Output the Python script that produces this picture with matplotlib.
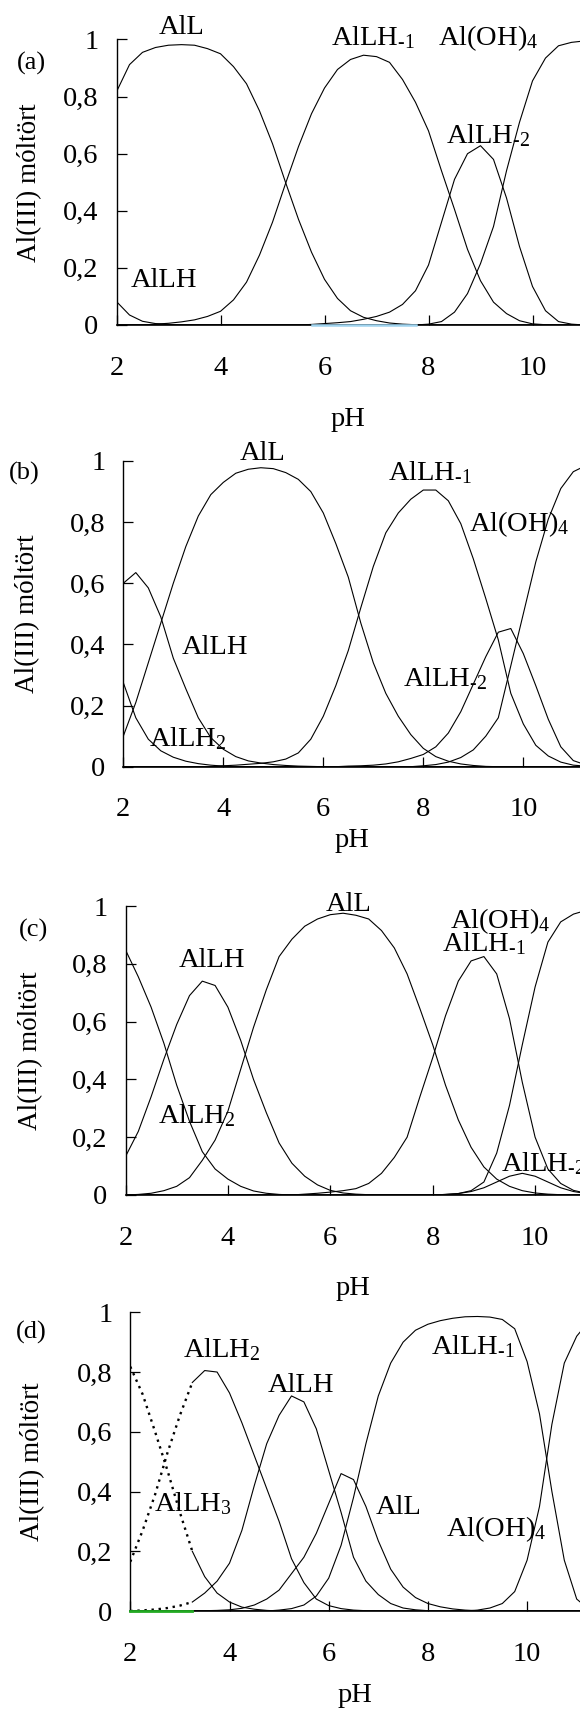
import numpy as np
import matplotlib
matplotlib.use("Agg")
import matplotlib.pyplot as plt

plt.rcParams['font.family'] = ['Liberation Serif', 'DejaVu Serif']
plt.rcParams['mathtext.fontset'] = 'custom'
plt.rcParams['mathtext.rm'] = 'Liberation Serif'
plt.rcParams['mathtext.it'] = 'Liberation Serif:italic'
plt.rcParams['mathtext.default'] = 'rm'

nan = np.nan

# pH grid (step 0.25)
ph = [2.0, 2.25, 2.5, 2.75, 3.0, 3.25, 3.5, 3.75, 4.0, 4.25, 4.5, 4.75,
      5.0, 5.25, 5.5, 5.75, 6.0, 6.25, 6.5, 6.75, 7.0, 7.25, 7.5, 7.75,
      8.0, 8.25, 8.5, 8.75, 9.0, 9.25, 9.5, 9.75, 10.0, 10.25, 10.5, 10.75,
      11.0, 11.25]

# ---- (a)
a_AlLH = [0.082, 0.035, 0.013, 0.005,
          0.002, 0, 0, 0,
          0, 0, 0, 0,
          0, 0, 0, 0,
          0, 0, 0, 0,
          0, 0, 0, 0,
          0, 0, 0, 0,
          0, 0, 0, 0,
          0, 0, 0, 0,
          0, 0]
a_AlL = [0.817, 0.912, 0.955, 0.972,
         0.980, 0.982, 0.980, 0.968,
         0.950, 0.905, 0.845, 0.750,
         0.635, 0.500, 0.370, 0.255,
         0.160, 0.093, 0.050, 0.027,
         0.015, 0.007, 0.003, 0.001,
         0, 0, 0, 0,
         0, 0, 0, 0,
         0, 0, 0, 0,
         0, 0]
a_AlLHm1 = [0, 0, 0, 0.003,
            0.006, 0.011, 0.018, 0.030,
            0.048, 0.088, 0.150, 0.245,
            0.360, 0.495, 0.625, 0.740,
            0.830, 0.895, 0.930, 0.945,
            0.940, 0.920, 0.860, 0.780,
            0.680, 0.540, 0.405, 0.265,
            0.155, 0.080, 0.040, 0.015,
            0.004, 0.001, 0, 0,
            0, 0]
a_AlLHm2 = [0, 0, 0, 0,
            0, 0, 0, 0,
            0, 0, 0, 0,
            0, 0, 0, 0.002,
            0.005, 0.008, 0.012, 0.020,
            0.030, 0.045, 0.072, 0.120,
            0.210, 0.360, 0.510, 0.600,
            0.628, 0.580, 0.445, 0.275,
            0.135, 0.050, 0.012, 0.003,
            0, 0]
a_AlOH4 = [0, 0, 0, 0,
           0, 0, 0, 0,
           0, 0, 0, 0,
           0, 0, 0, 0,
           0, 0, 0, 0,
           0, 0, 0, 0,
           0.003, 0.012, 0.045, 0.110,
           0.215, 0.345, 0.540, 0.710,
           0.855, 0.935, 0.978, 0.990,
           0.995, 0.997]
a_trace = [nan, nan, nan, nan,
           nan, nan, nan, nan,
           nan, nan, nan, nan,
           nan, nan, nan, 0,
           0, 0, 0, 0,
           0, 0, 0, 0,
           nan, nan, nan, nan,
           nan, nan, nan, nan,
           nan, nan, nan, nan,
           nan, nan]

# ---- (b)
b_AlLH2 = [0.275, 0.160, 0.090, 0.052,
           0.031, 0.018, 0.010, 0.005,
           0.002, 0, 0, 0,
           0, 0, 0, 0,
           0, 0, 0, 0,
           0, 0, 0, 0,
           0, 0, 0, 0,
           0, 0, 0, 0,
           0, 0, 0, 0,
           0, 0]
b_AlLH = [0.600, 0.635, 0.585, 0.490,
          0.355, 0.255, 0.160, 0.095,
          0.057, 0.033, 0.019, 0.012,
          0.007, 0.004, 0.002, 0.001,
          0, 0, 0, 0,
          0, 0, 0, 0,
          0, 0, 0, 0,
          0, 0, 0, 0,
          0, 0, 0, 0,
          0, 0]
b_AlL = [0.100, 0.210, 0.340, 0.470,
         0.600, 0.720, 0.820, 0.890,
         0.930, 0.960, 0.973, 0.978,
         0.975, 0.962, 0.940, 0.900,
         0.830, 0.730, 0.620, 0.470,
         0.340, 0.240, 0.165, 0.105,
         0.060, 0.033, 0.018, 0.009,
         0.004, 0.001, 0, 0,
         0, 0, 0, 0,
         0, 0]
b_AlLHm1 = [0, 0, 0, 0,
            0, 0, 0, 0,
            0.003, 0.005, 0.008, 0.011,
            0.016, 0.025, 0.045, 0.090,
            0.165, 0.265, 0.380, 0.520,
            0.655, 0.765, 0.830, 0.875,
            0.905, 0.905, 0.870, 0.795,
            0.680, 0.550, 0.415, 0.240,
            0.140, 0.070, 0.035, 0.015,
            0.005, 0.002]
b_AlLHm2 = [0, 0, 0, 0,
            0, 0, 0, 0,
            0, 0, 0, 0,
            0, 0, 0, 0,
            0, 0, 0.002, 0.003,
            0.005, 0.009, 0.016, 0.027,
            0.040, 0.065, 0.110, 0.180,
            0.270, 0.360, 0.440, 0.452,
            0.370, 0.265, 0.155, 0.065,
            0.020, 0.006]
b_AlOH4 = [0, 0, 0, 0,
           0, 0, 0, 0,
           0, 0, 0, 0,
           0, 0, 0, 0,
           0, 0, 0, 0,
           0, 0, 0, 0,
           0.003, 0.007, 0.015, 0.030,
           0.055, 0.100, 0.160, 0.330,
           0.500, 0.670, 0.810, 0.910,
           0.965, 0.985]

# ---- (c)
c_AlLH2 = [0.848, 0.755, 0.650, 0.525,
           0.380, 0.255, 0.150, 0.090,
           0.055, 0.030, 0.014, 0.006,
           0.002, 0, 0, 0,
           0, 0, 0, 0,
           0, 0, 0, 0,
           0, 0, 0, 0,
           0, 0, 0, 0,
           0, 0, 0, 0,
           0, 0]
c_AlLH = [0.133, 0.220, 0.340, 0.470,
          0.590, 0.690, 0.740, 0.725,
          0.650, 0.535, 0.400, 0.285,
          0.180, 0.110, 0.065, 0.035,
          0.016, 0.007, 0.003, 0.001,
          0, 0, 0, 0,
          0, 0, 0, 0,
          0, 0, 0, 0,
          0, 0, 0, 0,
          0, 0]
c_AlL = [0, 0.002, 0.006, 0.015,
         0.030, 0.060, 0.120, 0.190,
         0.290, 0.435, 0.580, 0.710,
         0.825, 0.885, 0.930, 0.955,
         0.970, 0.975, 0.968, 0.955,
         0.915, 0.855, 0.765, 0.645,
         0.520, 0.380, 0.260, 0.165,
         0.097, 0.055, 0.030, 0.015,
         0.007, 0.003, 0.001, 0,
         0, 0]
c_AlLHm1 = [0, 0, 0, 0,
            0, 0, 0, 0,
            0, 0, 0, 0,
            0, 0, 0.003, 0.006,
            0.010, 0.015, 0.022, 0.040,
            0.075, 0.130, 0.200, 0.340,
            0.475, 0.620, 0.740, 0.810,
            0.825, 0.765, 0.610, 0.390,
            0.200, 0.090, 0.040, 0.016,
            0.006, 0.002]
c_AlLHm2 = [0, 0, 0, 0,
            0, 0, 0, 0,
            0, 0, 0, 0,
            0, 0, 0, 0,
            0, 0, 0, 0,
            0, 0, 0, 0,
            0, 0.002, 0.005, 0.012,
            0.025, 0.045, 0.065, 0.075,
            0.065, 0.045, 0.025, 0.012,
            0.005, 0.002]
c_AlOH4 = [0, 0, 0, 0,
           0, 0, 0, 0,
           0, 0, 0, 0,
           0, 0, 0, 0,
           0, 0, 0, 0,
           0, 0, 0, 0,
           0, 0.002, 0.005, 0.015,
           0.045, 0.145, 0.310, 0.520,
           0.720, 0.875, 0.945, 0.972,
           0.985, 0.990]

# ---- (d)
d_AlLH3 = [0.818, 0.725, 0.600, 0.470,
           0.330, 0.200, 0.115, 0.060,
           0.030, 0.013, 0.006, 0.002,
           0, 0, 0, 0,
           0, 0, 0, 0,
           0, 0, 0, 0,
           0, 0, 0, 0,
           0, 0, 0, 0,
           0, 0, 0, 0,
           0, 0]
d_AlLH2 = [0.165, 0.270, 0.390, 0.530,
           0.655, 0.765, 0.805, 0.800,
           0.730, 0.630, 0.520, 0.410,
           0.300, 0.175, 0.095, 0.040,
           0.018, 0.008, 0.003, 0.001,
           0, 0, 0, 0,
           0, 0, 0, 0,
           0, 0, 0, 0,
           0, 0, 0, 0,
           0, 0]
d_AlLH = [0, 0.002, 0.005, 0.010,
          0.018, 0.030, 0.060, 0.100,
          0.160, 0.270, 0.420, 0.560,
          0.655, 0.720, 0.700, 0.610,
          0.470, 0.330, 0.180, 0.100,
          0.055, 0.025, 0.010, 0.004,
          0.001, 0, 0, 0,
          0, 0, 0, 0,
          0, 0, 0, 0,
          0, 0]
d_AlL = [0, 0, 0, 0,
         0, 0, 0.001, 0.002,
         0.004, 0.009, 0.020, 0.040,
         0.070, 0.125, 0.180, 0.260,
         0.360, 0.460, 0.440, 0.350,
         0.235, 0.140, 0.080, 0.045,
         0.025, 0.014, 0.007, 0.003,
         0.001, 0, 0, 0,
         0, 0, 0, 0,
         0, 0]
d_AlLHm1 = [0, 0, 0, 0,
            0, 0, 0, 0,
            0, 0, 0, 0,
            0.003, 0.008, 0.020, 0.050,
            0.110, 0.220, 0.380, 0.560,
            0.720, 0.830, 0.900, 0.940,
            0.960, 0.972, 0.980, 0.985,
            0.986, 0.984, 0.976, 0.945,
            0.835, 0.660, 0.400, 0.170,
            0.040, 0.005]
d_AlOH4 = [0, 0, 0, 0,
           0, 0, 0, 0,
           0, 0, 0, 0,
           0, 0, 0, 0,
           0, 0, 0, 0,
           0, 0, 0, 0,
           0, 0, 0, 0,
           0.003, 0.010, 0.025, 0.065,
           0.170, 0.350, 0.625, 0.830,
           0.920, 0.970]

# species labels: text, pH, y (centre of capital letters)
a_labels = [("AlL", 2.81, 1.054), ("AlLH$_{‐1}$", 6.12, 1.015),
            ("Al(OH)$_4$", 8.19, 1.015), ("AlLH$_{‐2}$", 8.33, 0.671),
            ("AlLH", 2.28, 0.166)]
b_labels = [("AlL", 4.32, 1.033), ("AlLH$_{‐1}$", 7.30, 0.967),
            ("Al(OH)$_4$", 8.92, 0.803), ("AlLH", 3.17, 0.399),
            ("AlLH$_{‐2}$", 7.60, 0.295), ("AlLH$_2$", 2.51, 0.098)]
c_labels = [("AlL", 5.92, 1.017), ("Al(OH)$_4$", 8.33, 0.955),
            ("AlLH$_{‐1}$", 8.19, 0.876), ("AlLH", 3.03, 0.821),
            ("AlLH$_2$", 2.63, 0.283), ("AlLH$_{‐2}$", 9.34, 0.116)]
d_labels = [("AlLH$_2$", 3.07, 0.882), ("AlLH$_{‐1}$", 8.07, 0.893),
            ("AlLH", 4.78, 0.765), ("AlLH$_3$", 2.47, 0.367),
            ("AlL", 6.95, 0.356), ("Al(OH)$_4$", 8.37, 0.284)]

yticks = [0, 0.2, 0.4, 0.6, 0.8, 1]
yticklabels = ["0", "0,2", "0,4", "0,6", "0,8", "1"]
xticks = [2, 4, 6, 8, 10]

W, H = 580, 1710
FS = 20.5

# layout in pixels: axis left, y=0 row, y=1 row, px per pH, letter pos, ylabel x, xlabel pad
layout = [
    dict(letter="(a)", left=116.5, y0=325, y1=39.5, ppx=52.0, lxy=(31, 63), ylx=30, xpad=19,
         series=[a_AlLH, a_AlL, a_AlLHm1, a_AlLHm2, a_AlOH4], labels=a_labels),
    dict(letter="(b)", left=123.3, y0=766.7, y1=461, ppx=50.0, lxy=(24, 473), ylx=28, xpad=4,
         series=[b_AlLH2, b_AlLH, b_AlL, b_AlLHm1, b_AlLHm2, b_AlOH4], labels=b_labels),
    dict(letter="(c)", left=125.5, y0=1195, y1=906, ppx=51.2, lxy=(33, 930), ylx=31, xpad=18,
         series=[c_AlLH2, c_AlLH, c_AlL, c_AlLHm1, c_AlLHm2, c_AlOH4], labels=c_labels),
    dict(letter="(d)", left=130.3, y0=1611, y1=1312.3, ppx=49.6, lxy=(31, 1332), ylx=33, xpad=12,
         series=[d_AlLH, d_AlL, d_AlLHm1, d_AlOH4], labels=d_labels),
]

fig = plt.figure(figsize=(W / 100, H / 100), dpi=100)
x = np.array(ph)

for i, p in enumerate(layout):
    ax = fig.add_axes([p["left"] / W, 1 - p["y0"] / H, 1 - p["left"] / W, (p["y0"] - p["y1"]) / H])
    ax.set_xlim(2, 2 + (W - p["left"]) / p["ppx"])
    ax.set_ylim(0, 1)
    for s in ("top", "right"):
        ax.spines[s].set_visible(False)
    ax.spines["left"].set_linewidth(1.0)
    ax.spines["bottom"].set_linewidth(1.2)
    ax.set_xticks(xticks)
    ax.set_yticks(yticks)
    ax.set_yticklabels(yticklabels)
    ax.tick_params(direction="in", length=7, width=0.9, labelsize=FS)
    ax.tick_params(axis="x", pad=22)
    ax.tick_params(axis="y", pad=13)
    ax.set_xlabel("pH", fontsize=FS, labelpad=p["xpad"])

    if i < 3:
        for ys in p["series"]:
            ax.plot(x, ys, color="black", lw=0.8)
    else:
        # low-pH part of (d) is drawn dotted
        for ys in [d_AlLH3, d_AlLH2, d_AlLH]:
            ax.plot(x[:6], ys[:6], color="black", lw=1.7, ls=(0, (1, 2.0)))
            ax.plot(x[5:], ys[5:], color="black", lw=0.8)
        ax.plot(x[:6], d_AlL[:6], color="#22aa22", lw=2, clip_on=False, zorder=3)
        ax.plot(x[5:], d_AlL[5:], color="black", lw=0.8)
        for ys in [d_AlLHm1, d_AlOH4]:
            ax.plot(x, ys, color="black", lw=0.8)
    if i == 0:
        ax.plot(x, a_trace, color="#9fd3ee", lw=1.8, clip_on=False, zorder=3)

    dy = 9.5 / (p["y0"] - p["y1"])
    for txt, lx, ly in p["labels"]:
        ax.text(lx, ly - dy, txt, fontsize=FS, ha="left", va="baseline", clip_on=False)

    fig.text(p["lxy"][0] / W, 1 - p["lxy"][1] / H, p["letter"], fontsize=19, ha="center", va="center")
    fig.text(p["ylx"] / W, 1 - ((p["y0"] + p["y1"]) / 2) / H, "Al(III) móltört",
             fontsize=19.5, rotation=90, ha="center", va="center")

fig.savefig("out.png", dpi=100)
